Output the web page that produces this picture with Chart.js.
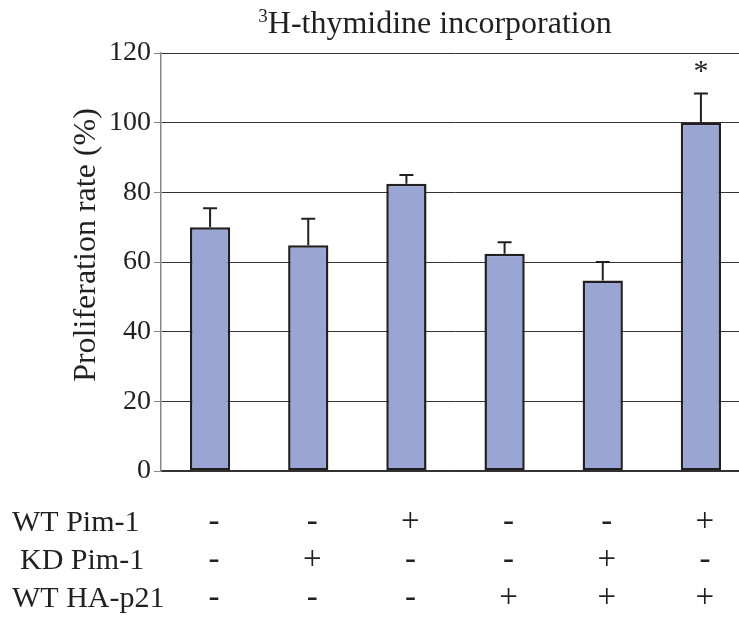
<!DOCTYPE html>
<html lang="en">
<head>
<meta charset="UTF-8">
<title>3H-thymidine incorporation</title>
<script src="https://cdn.jsdelivr.net/npm/chart.js"></script>
<style>
html, body { margin: 0; padding: 0; background: #fff; overflow: hidden; }
#prolifChart { display: block; }
</style>
</head>
<body>
<canvas id="prolifChart" width="750" height="617"></canvas>
<script>
// treatment groups (one bar each)
const groups = ['Control', 'KD Pim-1', 'WT Pim-1', 'HA-p21', 'KD Pim-1 + HA-p21', 'WT Pim-1 + HA-p21'];
// proliferation rate (%) and upper error (SD)
const proliferation = [70, 64.8, 82.5, 62.4, 54.7, 100];
const errorUp = [5.4, 7.6, 2.5, 3.3, 5.3, 8.4];
const significance = ['', '', '', '', '', '*'];
const yTicks = [0, 20, 40, 60, 80, 100, 120];

// treatment table under the bars
const rowLabels = ['WT Pim-1', 'KD Pim-1', 'WT HA-p21'];
const wtPim1 = ['-', '-', '+', '-', '-', '+'];
const kdPim1 = ['-', '+', '-', '-', '+', '-'];
const wtHAp21 = ['-', '-', '-', '+', '+', '+'];
const tableRows = [wtPim1, kdPim1, wtHAp21];

const SERIF = "'Liberation Serif', 'Times New Roman', serif";
const INK = '#231f20';

const errorBars = {
    id: 'errorBars',
    afterDatasetsDraw(chart) {
        const ctx = chart.ctx;
        const y = chart.scales.y;
        const meta = chart.getDatasetMeta(0);
        ctx.save();
        ctx.strokeStyle = INK;
        ctx.lineWidth = 2;
        meta.data.forEach((bar, i) => {
            const top = y.getPixelForValue(proliferation[i] + errorUp[i]);
            ctx.beginPath();
            ctx.moveTo(bar.x, bar.y);
            ctx.lineTo(bar.x, top);
            ctx.moveTo(bar.x - 7, top);
            ctx.lineTo(bar.x + 7, top);
            ctx.stroke();
            if (significance[i]) {
                ctx.fillStyle = INK;
                ctx.font = '30px ' + SERIF;
                ctx.textAlign = 'center';
                ctx.textBaseline = 'alphabetic';
                ctx.fillText(significance[i], bar.x, top - 13);
            }
        });
        ctx.restore();
    }
};

const extras = {
    id: 'extras',
    afterDraw(chart) {
        const ctx = chart.ctx;
        const meta = chart.getDatasetMeta(0);
        ctx.save();
        ctx.fillStyle = INK;

        // title with superscript 3
        const big = '32px ' + SERIF, small = '19px ' + SERIF;
        const main = 'H-thymidine incorporation';
        ctx.font = small;
        const wSup = ctx.measureText('3').width;
        ctx.font = big;
        const wMain = ctx.measureText(main).width;
        const tx = 435 - (wSup + wMain) / 2;
        ctx.textAlign = 'left';
        ctx.textBaseline = 'alphabetic';
        ctx.font = small;
        ctx.fillText('3', tx, 22);
        ctx.font = big;
        ctx.fillText(main, tx + wSup, 33);

        // y-axis title
        ctx.save();
        ctx.translate(87, 245);
        ctx.rotate(-Math.PI / 2);
        ctx.textAlign = 'center';
        ctx.textBaseline = 'middle';
        ctx.font = '32px ' + SERIF;
        ctx.fillText('Proliferation rate (%)', 0, 0);
        ctx.restore();

        // treatment table
        const rowY = [531, 569, 607];
        const labelX = [12, 20, 12];
        ctx.textBaseline = 'alphabetic';
        tableRows.forEach((row, r) => {
            ctx.font = '30px ' + SERIF;
            ctx.textAlign = 'left';
            ctx.fillText(rowLabels[r], labelX[r], rowY[r]);
            ctx.font = '33px ' + SERIF;
            ctx.textAlign = 'center';
            row.forEach((sym, i) => {
                ctx.fillText(sym, meta.data[i].x + 4, rowY[r]);
            });
        });
        ctx.restore();
    }
};

new Chart(document.getElementById('prolifChart'), {
    type: 'bar',
    data: {
        labels: groups,
        datasets: [{
            data: proliferation,
            backgroundColor: '#99a5d3',
            borderColor: INK,
            borderWidth: 2.5,
            borderSkipped: false,
            barPercentage: 0.82,
            categoryPercentage: 0.5
        }]
    },
    options: {
        responsive: false,
        animation: false,
        layout: { padding: { top: 53, bottom: 146, right: 0, left: 0 } },
        plugins: {
            legend: { display: false },
            title: { display: false },
            tooltip: { enabled: false }
        },
        scales: {
            x: {
                grid: { display: false },
                ticks: { display: false },
                border: { color: '#333', width: 1.5 },
                afterFit(scale) { scale.height = 0; }
            },
            y: {
                min: 0,
                max: 120,
                afterBuildTicks(scale) { scale.ticks = yTicks.map(v => ({ value: v })); },
                afterFit(scale) { scale.width = 161; },
                ticks: {
                    color: INK,
                    padding: 3,
                    font: { family: SERIF, size: 28 }
                },
                grid: {
                    color: '#333',
                    lineWidth: 1,
                    tickLength: 7,
                    tickColor: '#888'
                },
                border: { color: '#888', width: 1.5 }
            }
        }
    },
    plugins: [errorBars, extras]
});
</script>
</body>
</html>
